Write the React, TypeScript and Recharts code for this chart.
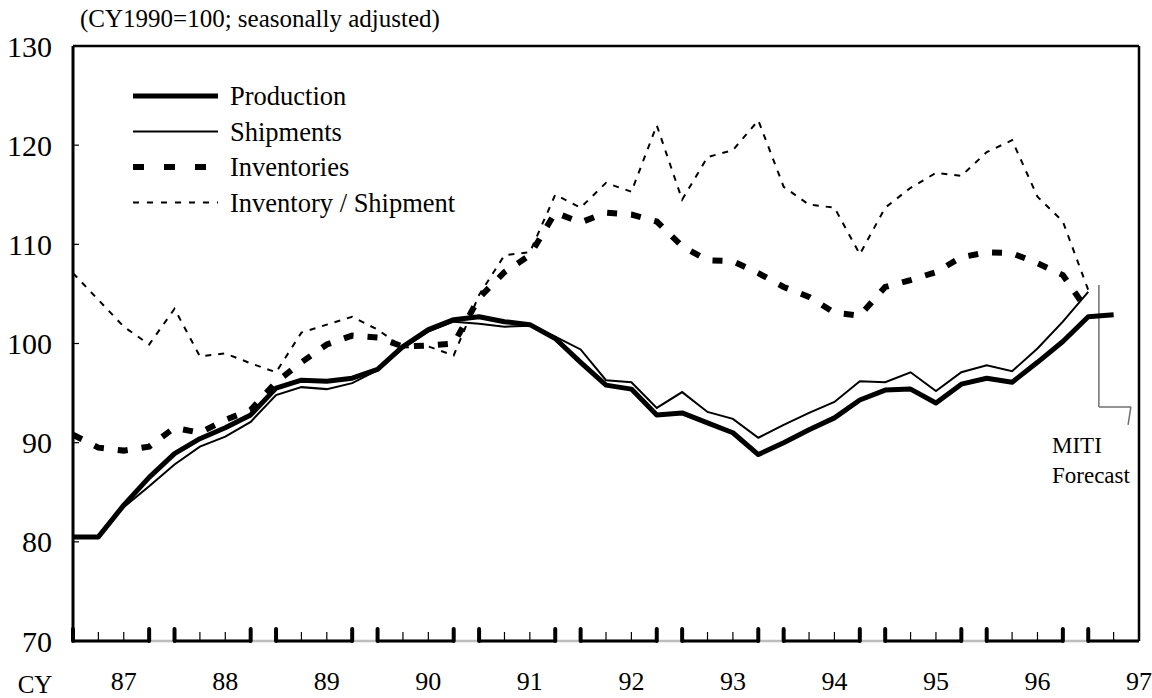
import React from "react";
import { LineChart, Line, XAxis, YAxis, ReferenceLine, Legend, Customized } from "recharts";

const FONT = '"Liberation Serif", "Times New Roman", serif';

// quarterly, 87 Q1 .. 97 Q2
const years = ["87", "88", "89", "90", "91", "92", "93", "94", "95", "96", "97"];
const yTicks = [70, 80, 90, 100, 110, 120, 130];

const production = [
  80.5, 80.5, 83.7, 86.5, 88.9, 90.4, 91.5, 92.8, 95.5, 96.3, 96.2, 96.5, 97.4, 99.7,
  101.4, 102.4, 102.7, 102.2, 101.9, 100.5, 98.1, 95.8, 95.4, 92.8, 93.0, 92.0, 91.0,
  88.8, 90.0, 91.3, 92.5, 94.3, 95.3, 95.4, 94.0, 95.9, 96.5, 96.1, 98.1, 100.2, 102.7, 102.9,
];
const shipments = [
  80.5, 80.6, 83.5, 85.6, 87.8, 89.6, 90.6, 92.1, 94.8, 95.6, 95.4, 96.0, 97.3, 99.5,
  101.2, 102.2, 102.0, 101.7, 101.8, 100.7, 99.4, 96.3, 96.1, 93.5, 95.1, 93.1, 92.4,
  90.5, 91.8, 93.0, 94.1, 96.2, 96.1, 97.1, 95.2, 97.1, 97.8, 97.2, 99.5, 102.2, 105.2, null,
];
const inventories = [
  90.8, 89.5, 89.2, 89.6, 91.5, 91.0, 92.3, 93.3, 96.1, 98.1, 99.9, 100.8, 100.6, 99.7,
  99.8, 100.0, 104.6, 107.2, 108.9, 113.2, 112.2, 113.2, 113.0, 112.3, 109.8, 108.4, 108.3,
  107.1, 105.7, 104.7, 103.1, 102.8, 105.7, 106.4, 107.2, 108.7, 109.2, 109.1, 108.1, 106.9, 103.2, null,
];
const invShip = [
  107.1, 104.4, 101.7, 99.9, 103.5, 98.7, 99.0, 98.0, 97.1, 101.1, 101.9, 102.7, 101.4, 99.6,
  99.7, 98.8, 104.9, 108.9, 109.2, 115.0, 113.7, 116.2, 115.3, 122.0, 114.5, 118.8, 119.5,
  122.5, 115.8, 114.0, 113.7, 109.0, 113.7, 115.7, 117.2, 116.9, 119.3, 120.5, 114.8, 112.3, 105.4, null,
];

const data = production.map((p, i) => ({
  q: i,
  production: p,
  shipments: shipments[i],
  inventories: inventories[i],
  invShip: invShip[i],
}));

const quarterTicks = Array.from({ length: 43 }, (_, i) => i);

const legendItems = [
  { name: "Production", width: 5, dash: undefined as string | undefined },
  { name: "Shipments", width: 2, dash: undefined },
  { name: "Inventories", width: 6, dash: "11 20" },
  { name: "Inventory / Shipment", width: 2, dash: "6 8" },
];

// MITI forecast callout (data coords)
const forecastCallout = [
  [{ x: 40.42, y: 105.9 }, { x: 40.42, y: 93.6 }],
  [{ x: 40.42, y: 93.6 }, { x: 41.68, y: 93.6 }],
  [{ x: 41.68, y: 93.6 }, { x: 41.57, y: 91.8 }],
];

function QuarterTick({ x, y, payload }: any) {
  const v = payload.value as number;
  const q = v % 4;
  const major = q === 0 || q === 3;
  return (
    <g>
      {v < 42 && (
        <line
          x1={x} x2={x} y1={y - (major ? 12 : 9)} y2={y}
          stroke="#000" strokeWidth={major ? 4 : 1.2} strokeLinecap={major ? "round" : "butt"}
        />
      )}
      {q === 2 && (
        <text x={x} y={y + 49} textAnchor="middle" fontFamily={FONT} fontSize={26} fill="#000">
          {years[Math.floor(v / 4)]}
        </text>
      )}
    </g>
  );
}

function ValueTick({ x, y, payload }: any) {
  return (
    <g>
      <line x1={x} x2={x + 6} y1={y} y2={y} stroke="#000" strokeWidth={1.2} />
      <text x={x - 21} y={y} dy="0.35em" textAnchor="end" fontFamily={FONT} fontSize={30} fill="#000">
        {payload.value}
      </text>
    </g>
  );
}

function LegendBox() {
  return (
    <svg width={440} height={140} style={{ display: "block" }}>
      {legendItems.map((it, i) => {
        const cy = 18 + i * 35.5;
        return (
          <g key={it.name}>
            <line x1={8} x2={93} y1={cy} y2={cy} stroke="#000" strokeWidth={it.width} strokeDasharray={it.dash} />
            <text x={105} y={cy} dy="0.35em" fontFamily={FONT} fontSize={26.5} fill="#000">{it.name}</text>
          </g>
        );
      })}
    </svg>
  );
}

function Notes() {
  return (
    <g fontFamily={FONT} fill="#000">
      <text x={80} y={27} fontSize={25}>(CY1990=100; seasonally adjusted)</text>
      <text x={35} y={693} fontSize={25} textAnchor="middle">CY</text>
      <text x={1052} y={453} fontSize={23}>MITI</text>
      <text x={1052} y={483} fontSize={23}>Forecast</text>
    </g>
  );
}

export default function App() {
  return (
    <div style={{ position: "absolute", left: 0, top: 0, background: "#fff" }}>
      <LineChart width={1152} height={698} data={data} margin={{ top: 46, right: 13, left: 0, bottom: 0 }}>
        <XAxis
          dataKey="q" type="number" domain={[0, 42]} ticks={quarterTicks} interval={0}
          tickSize={0} tickMargin={0} axisLine={false} tick={<QuarterTick />} height={57}
        />
        <YAxis
          domain={[70, 130]} ticks={yTicks} interval={0} width={73} tickSize={0} tickMargin={0}
          axisLine={{ stroke: "#000", strokeWidth: 3 }} tick={<ValueTick />}
        />
        <ReferenceLine y={130} stroke="#000" strokeWidth={2.5} ifOverflow="visible" />
        <ReferenceLine x={42} stroke="#000" strokeWidth={2.5} ifOverflow="visible" />
        <ReferenceLine y={70} stroke="#bdbdbd" strokeWidth={2.5} ifOverflow="visible" />
        {years.map((yr, k) => (
          <ReferenceLine
            key={yr}
            segment={[{ x: 4 * k, y: 70 }, { x: Math.min(4 * k + 3, 42), y: 70 }]}
            stroke="#000" strokeWidth={3} ifOverflow="visible"
          />
        ))}
        {forecastCallout.map((seg, i) => (
          <ReferenceLine key={i} segment={seg} stroke="#707070" strokeWidth={1.5} ifOverflow="visible" />
        ))}
        <Line dataKey="invShip" type="linear" stroke="#000" strokeWidth={2} strokeDasharray="6 7" dot={false} isAnimationActive={false} />
        <Line dataKey="inventories" type="linear" stroke="#000" strokeWidth={6} strokeDasharray="10 14" dot={false} isAnimationActive={false} />
        <Line dataKey="shipments" type="linear" stroke="#000" strokeWidth={2} dot={false} isAnimationActive={false} />
        <Line dataKey="production" type="linear" stroke="#000" strokeWidth={5} strokeLinejoin="round" dot={false} isAnimationActive={false} />
        <Legend
          layout="vertical" align="center" verticalAlign="middle"
          wrapperStyle={{ left: 125, top: 78, width: 440 }}
          content={() => <LegendBox />}
        />
        <Customized component={Notes} />
      </LineChart>
    </div>
  );
}
